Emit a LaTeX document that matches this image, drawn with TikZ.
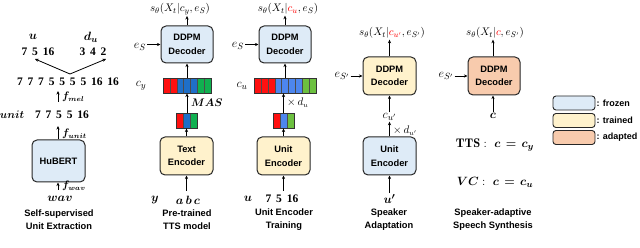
\documentclass[tikz,border=0pt]{standalone}
\usepackage{amsmath,bm}
\usepackage{fontspec}
\newfontfamily\arialf{Liberation Sans}
\newfontfamily\numf{Liberation Serif}
\newcommand{\numfont}{\numf\bfseries\fontsize{11.5}{13}\selectfont\spaceskip=0.42em\relax}
\usetikzlibrary{arrows.meta,calc}
\definecolor{frozenc}{HTML}{DEEBF7}
\definecolor{trainedc}{HTML}{FFF2CC}
\definecolor{adaptedc}{HTML}{F8CBAD}
\definecolor{cred}{HTML}{FF1010}
\definecolor{cblue}{HTML}{1F6FC8}
\definecolor{cgreen}{HTML}{10B050}
\definecolor{cblueb}{HTML}{4D86EE}
\definecolor{cgreenb}{HTML}{6CC040}
\tikzset{
  blk/.style={draw=black!85, line width=1pt, rounded corners=5pt, align=center,
    font=\arialf\bfseries\fontsize{9.3}{13.5}\selectfont, inner sep=0pt,
    minimum width=53pt, minimum height=38pt},
  frozen/.style={blk, fill=frozenc},
  trained/.style={blk, fill=trainedc},
  adapted/.style={blk, fill=adaptedc},
  legbox/.style={draw=black!85, line width=0.9pt, rounded corners=3pt, minimum width=42pt, minimum height=14pt, inner sep=0pt},
  arr/.style={-{Stealth[length=3.6pt,width=3.2pt]}, line width=0.8pt},
  lab/.style={font=\arialf\bfseries\fontsize{9.3}{13}\selectfont, align=center},
  num/.style={font=\numfont, inner sep=1.5pt},
  mth/.style={font=\fontsize{11}{13}\selectfont, inner sep=1pt},
  sml/.style={font=\fontsize{10.5}{12}\selectfont, inner sep=1pt},
  big/.style={font=\fontsize{12.5}{14}\selectfont, inner sep=1pt},
  leg/.style={font=\arialf\bfseries\fontsize{9}{11}\selectfont, anchor=west, inner sep=0pt},
  barb/.style={draw=black!80, line width=0.8pt, inner sep=0pt, minimum height=15pt},
}
\newcommand{\cells}[4]{% x0, y0, width, colour list
  \foreach \cc [count=\ii from 0] in {#4} {
    \fill[\cc] ({#1+\ii*#3},#2) rectangle ++(#3,15);
    \draw[black!70, line width=0.4pt] ({#1+\ii*#3},#2) -- ++(0,15);
  }}
\begin{document}
\begin{tikzpicture}[x=1pt,y=-1pt]
\useasboundingbox (0,0) rectangle (640,248);

% ---------- Panel 1 ----------
\node[big] (u) at (33,37) {$\bm{u}$};
\node[big] (du) at (91,37) {$\bm{d_u}$};
\node[num] (useq) at (38,52) {7 5 16};
\node[num] (dseq) at (93,52) {3 4 2};
\node[num] (full) at (68,82) {7 7 7 5 5 5 5 16 16};
\coordinate (split) at (70,74);
\coordinate (ul) at (35,59);
\coordinate (dr) at (106,59);
\draw[arr] (split) -- (ul);
\draw[arr] (split) -- (dr);
\node[sml] (unitl) at (12,115) {$\bm{unit}$};
\node[num] (useq2) at (62,115) {7 7 5 5 16};
\node[frozen, minimum width=53pt, minimum height=42pt] (hub) at (58.5,161) {HuBERT};
\node[big] (wav) at (60,199) {$\bm{wav}$};
\coordinate (a1) at (58,102);
\coordinate (a1e) at (58,91);
\draw[arr] (a1) -- (a1e);
\node[sml, anchor=west] (fmel) at (61,97) {$\bm{f_{mel}}$};
\draw[arr] (hub.north -| 58,0) -- ++(0,-13.5) coordinate (a2e);
\node[sml, anchor=west] (funit) at (61,134) {$\bm{f_{unit}}$};
\draw[arr] (58,190) coordinate (a3) -- (hub.south -| 58,0);
\node[sml, anchor=west] (fwav) at (61,186) {$\bm{f_{wav}}$};
\node[lab] (l1) at (59,219.5) {Self-supervised\\Unit Extraction};

% ---------- Panel 2 ----------
\node[frozen, minimum width=52pt, minimum height=37pt] (dec2) at (187,44.5) {DDPM\\Decoder};
\node[mth] (o2) at (180,9) {$s_\theta(X_t|c_y,e_S)$};
\draw[arr] (dec2.north) -- (dec2.north |- o2.south);
\node[big] (es2) at (140,47) {$e_S$};
\draw[arr] (es2.east |- dec2.west) -- (dec2.west);
\cells{163}{78}{6.86}{cred,cred,cblue,cblue,cblue,cgreen,cgreen}
\node[barb, minimum width=48pt] (cy) at (187,85.5) {};
\node[big] (cyl) at (141,86) {$c_y$};
\draw[arr] (cy.north) -- (dec2.south);
\cells{176}{113}{7}{cred,cblue,cgreen}
\node[barb, minimum width=21pt] (sb2) at (186.5,120.5) {};
\draw[arr] (sb2.north -| cy.north) -- (cy.south);
\node[sml, anchor=west] (mas) at (190,103) {$\bm{MAS}$};
\node[trained] (te) at (186.5,156) {Text\\Encoder};
\draw[arr] (te.north) -- (sb2.south -| te.north);
\coordinate (y2) at (186.5,191);
\draw[arr] (y2) -- (te.south);
\node[big] (yl) at (155,200) {$\bm{y}$};
\node[big] (abc) at (188,200) {$\bm{a\,b\,c}$};
\node[lab] (l2) at (187,219.5) {Pre-trained\\TTS model};

% ---------- Panel 3 ----------
\node[frozen, minimum width=52pt, minimum height=37pt] (dec3) at (285,44.5) {DDPM\\Decoder};
\node[mth] (o3) at (288,9) {$s_\theta(X_t|\textcolor{red}{c_u},e_S)$};
\draw[arr] (dec3.north) -- (dec3.north |- o3.south);
\node[big] (es3) at (238,46) {$e_S$};
\draw[arr] (es3.east |- dec3.west) -- (dec3.west);
\cells{254}{78}{6.9}{cred,cred,cred,cblueb,cblueb,cblueb,cblueb,cgreenb,cgreenb}
\node[barb, minimum width=62.1pt] (cu) at (285.05,85.5) {};
\node[big] (cul) at (242,86) {$c_u$};
\draw[arr] (cu.north -| dec3.south) -- (dec3.south);
\cells{273}{113}{7}{cred,cblueb,cgreenb}
\node[barb, minimum width=21pt] (sb3) at (283.5,120.5) {};
\draw[arr] (sb3.north) -- (sb3.north |- cu.south);
\node[sml, anchor=west] (du3) at (286,103) {$\times\, d_u$};
\node[trained] (ue3) at (283.5,156) {Unit\\Encoder};
\draw[arr] (ue3.north) -- (sb3.south);
\coordinate (u3) at (283.5,191);
\draw[arr] (u3) -- (ue3.south);
\node[big] (ul3) at (248,199) {$\bm{u}$};
\node[num] (useq3) at (282,199) {7 5 16};
\node[lab] (l3) at (284,219.5) {Unit Encoder\\Training};

% ---------- Panel 4 ----------
\node[trained] (dec4) at (389.5,76) {DDPM\\Decoder};
\node[mth] (o4) at (392,33) {$s_\theta(X_t|\textcolor{red}{c_{u'}},e_{S'})$};
\draw[arr] (dec4.north) -- (dec4.north |- o4.south);
\node[big] (es4) at (342,76) {$e_{S'}$};
\draw[arr] (es4.east |- dec4.west) -- (dec4.west);
\node[big] (cu4) at (389.5,117) {$c_{u'}$};
\draw[arr] (cu4.north) -- (dec4.south);
\node[frozen] (ue4) at (389.5,156) {Unit\\Encoder};
\draw[arr] (ue4.north) -- (cu4.south);
\node[sml, anchor=west] (du4) at (392,131) {$\times\, d_{u'}$};
\node[big] (up4) at (389.5,199) {$\bm{u'}$};
\draw[arr] (up4.north) -- (ue4.south);
\node[lab] (l4) at (389,219.5) {Speaker\\Adaptation};

% ---------- Panel 5 ----------
\node[adapted, minimum width=52pt] (dec5) at (494,76) {DDPM\\Decoder};
\node[mth] (o5) at (495,33) {$s_\theta(X_t|\textcolor{red}{c},e_{S'})$};
\draw[arr] (dec5.north -| 493,0) -- (493,0 |- o5.south);
\node[big] (es5) at (446,76) {$e_{S'}$};
\draw[arr] (es5.east |- dec5.west) -- (dec5.west);
\node[big] (c5) at (493,116) {$\bm{c}$};
\draw[arr] (c5.north) -- (c5.north |- dec5.south);
\node[big] (tts) at (495,145) {$\mathbf{TTS}:\ \bm{c\,=\,c_y}$};
\node[big] (vc) at (495,182) {$\bm{VC}:\ \bm{c\,=\,c_u}$};
\node[lab] (l5) at (493,219.5) {Speaker-adaptive\\Speech Synthesis};

% ---------- Legend ----------
\node[legbox, fill=frozenc] (lg1) at (574,103) {};
\node[legbox, fill=trainedc] (lg2) at (574,120.5) {};
\node[legbox, fill=adaptedc] (lg3) at (574,137.5) {};
\node[leg] (lt1) at ($(lg1.east)+(1,0)$) {: frozen};
\node[leg] (lt2) at ($(lg2.east)+(1,0)$) {: trained};
\node[leg] (lt3) at ($(lg3.east)+(1,0)$) {: adapted};
\end{tikzpicture}
\end{document}
